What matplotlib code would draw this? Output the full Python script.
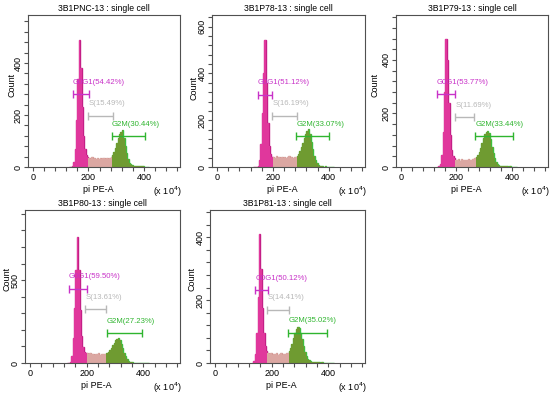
import numpy as np
import matplotlib
matplotlib.use('Agg')
import matplotlib.pyplot as plt
from matplotlib.ticker import FixedLocator, MultipleLocator

plt.rcParams['font.family'] = ['Liberation Sans', 'DejaVu Sans']

# histogram bins: 5 units wide, 130..420 (x10^4)
BIN_LO, BIN_W, N_BINS = 130, 5, 58

titles = ['3B1PNC-13 : single cell', '3B1P78-13 : single cell', '3B1P79-13 : single cell',
          '3B1P80-13 : single cell', '3B1P81-13 : single cell']

counts_pnc = [0, 0, 3, 18, 70, 180, 340, 488, 380, 230,
              120, 68, 45, 38, 36, 30, 37, 32, 35, 29,
              34, 31, 36, 30, 33, 35, 31, 34, 32, 36,
              38, 46, 58, 72, 92, 112, 128, 134, 142, 110,
              80, 52, 30, 17, 10, 6, 4, 3, 2, 3,
              2, 4, 2, 3, 1, 0, 0, 0]
counts_p78 = [0, 0, 0, 5, 30, 100, 230, 400, 545, 360,
              190, 90, 55, 44, 42, 38, 45, 40, 43, 37,
              42, 39, 44, 38, 41, 46, 40, 43, 39, 42,
              44, 48, 56, 68, 84, 104, 124, 142, 152, 162,
              140, 108, 76, 48, 28, 16, 9, 6, 4, 3,
              2, 3, 1, 2, 1, 0, 0, 0]
counts_p79 = [0, 2, 12, 45, 130, 280, 478, 400, 240, 120,
              62, 40, 33, 28, 26, 30, 24, 29, 27, 25,
              28, 26, 30, 25, 27, 29, 30, 32, 36, 44,
              56, 72, 90, 108, 122, 130, 135, 128, 104, 76,
              52, 32, 18, 10, 6, 4, 3, 2, 3, 2,
              2, 1, 2, 0, 0, 0, 0, 0]
counts_p80 = [0, 0, 8, 40, 150, 330, 560, 759, 560, 320,
              160, 95, 68, 60, 58, 52, 60, 55, 57, 50,
              56, 53, 58, 51, 55, 57, 52, 56, 60, 66,
              76, 90, 106, 122, 136, 146, 150, 140, 116, 88,
              62, 40, 24, 14, 9, 6, 4, 3, 3, 2,
              3, 2, 2, 1, 0, 0, 0, 0]
counts_p81 = [0, 6, 30, 95, 210, 410, 300, 175, 95, 55,
              38, 32, 29, 31, 27, 30, 28, 32, 26, 29,
              31, 27, 30, 28, 31, 33, 38, 48, 62, 80,
              96, 108, 114, 110, 96, 76, 54, 36, 22, 13,
              8, 5, 4, 3, 2, 3, 2, 2, 1, 2,
              1, 1, 0, 0, 0, 0, 0, 0]
all_counts = [counts_pnc, counts_p78, counts_p79, counts_p80, counts_p81]

# gates: (start, end, y) in data units
g1_gates = [(144, 201, 281), (146, 198, 309), (130, 196, 271), (138, 201, 447), (142, 186, 232)]
s_gates = [(199, 290, 197), (198, 286, 219), (196, 265, 186), (195, 269, 323), (184, 262, 170)]
g2_gates = [(284, 404, 119), (284, 400, 131), (268, 404, 114), (271, 397, 181), (259, 394, 97)]
g1_pct = [54.42, 51.12, 53.77, 59.50, 50.12]
s_pct = [15.49, 16.19, 11.69, 13.61, 14.41]
g2_pct = [30.44, 33.07, 33.44, 27.23, 35.02]

y_max = [585, 650, 568, 923, 487]
y_major = [[0, 200, 400], [0, 200, 400, 600], [0, 200, 400], [0, 500], [0, 200, 400]]
y_minor = [40, 40, 40, 100, 40]

W, H = 554, 394
# axes boxes in pixels: left, top, right, bottom
boxes = [(28, 15, 180, 167), (212, 15, 365, 167), (396, 15, 548, 167),
         (25, 210, 180, 363), (210, 210, 365, 363)]
# position of the "Count" label, axes fraction
ylabel_x = [-0.107, -0.115, -0.138, -0.116, -0.118]
ylabel_y = [0.54, 0.52, 0.54, 0.55, 0.55]

C_G1, C_G1_EDGE = '#e0379c', '#c41f86'
C_S, C_S_EDGE = '#dba7a2', '#d49a95'
C_G2, C_G2_EDGE = '#6f9b31', '#3cbf3c'
C_G1_TXT, C_S_TXT, C_G2_TXT = '#c832c8', '#b8b8b8', '#2fb52f'
SPINE = '#505050'

fig = plt.figure(figsize=(W / 100, H / 100), dpi=100)
edges = BIN_LO + BIN_W * np.arange(N_BINS + 1)

for i in range(5):
    l, t, r, b = boxes[i]
    ax = fig.add_axes([l / W, 1 - b / H, (r - l) / W, (b - t) / H])
    counts = np.array(all_counts[i], dtype=float)

    # split the histogram into G1 / S / G2M regions
    k1 = int(round((g1_gates[i][1] - BIN_LO) / BIN_W))
    k2 = int(round((g2_gates[i][0] - BIN_LO) / BIN_W))
    parts = [(0, k1, C_G1, C_G1_EDGE), (k1, k2, C_S, C_S_EDGE), (k2, N_BINS, C_G2, C_G2_EDGE)]
    # outline first, fill on top so only the outer contour shows
    for a, z, fc, ec in parts:
        ax.stairs(counts[a:z], edges[a:z + 1], color=ec, lw=1.0, zorder=1)
    for a, z, fc, ec in parts:
        ax.stairs(counts[a:z], edges[a:z + 1], fill=True, color=fc, lw=0, zorder=2)

    # gate bars + labels
    for (x0, x1, gy), name, pct, col in [(g1_gates[i], 'G0G1', g1_pct[i], C_G1_TXT),
                                          (s_gates[i], 'S', s_pct[i], C_S_TXT),
                                          (g2_gates[i], 'G2M', g2_pct[i], C_G2_TXT)]:
        ax.errorbar((x0 + x1) / 2, gy, xerr=(x1 - x0) / 2, fmt='none', ecolor=col,
                    elinewidth=1, capsize=3, capthick=1, zorder=3)
        ax.annotate(f'{name}({pct:.2f}%)', (x0, gy), xytext=(0, 7.5), textcoords='offset points',
                    ha='left', va='baseline', fontsize=5.6, color=col, zorder=4)

    ax.set_xlim(-18, 530)
    ax.set_ylim(0, y_max[i])
    ax.xaxis.set_major_locator(FixedLocator([0, 200, 400]))
    ax.xaxis.set_minor_locator(MultipleLocator(40))
    ax.yaxis.set_major_locator(FixedLocator(y_major[i]))
    ax.yaxis.set_minor_locator(MultipleLocator(y_minor[i]))
    ax.tick_params(which='both', direction='out', length=3, width=0.8, color=SPINE,
                   labelsize=6.5, pad=1.5)
    ax.tick_params(axis='y', pad=0.8)
    for lab in ax.get_yticklabels():
        lab.set_rotation(90)
        lab.set_va('center')
    for sp in ax.spines.values():
        sp.set_color(SPINE)
        sp.set_linewidth(0.8)

    ax.set_title(titles[i], fontsize=6.2, pad=3)
    ax.set_xlabel('pi PE-A', fontsize=6.5)
    ax.xaxis.set_label_coords(0.46, -0.145)
    ax.xaxis.label.set_va('center')
    ax.set_ylabel('Count', fontsize=6.5)
    ax.yaxis.set_label_coords(ylabel_x[i], ylabel_y[i])
    ax.yaxis.label.set_va('center')
    ax.text(1.01, -0.16, r'(x 10$^4$)', transform=ax.transAxes, ha='right', va='center',
            fontsize=6.5)

fig.savefig('out.png', dpi=100)
